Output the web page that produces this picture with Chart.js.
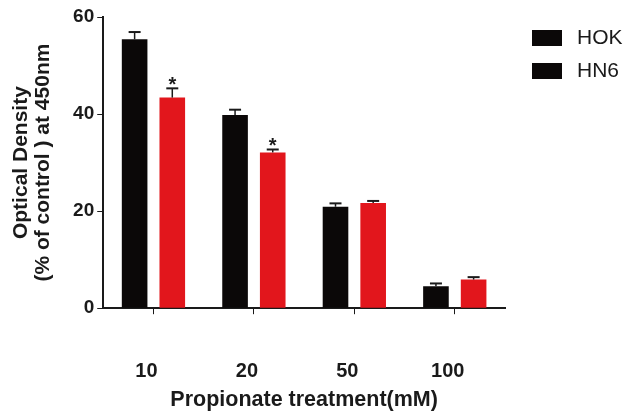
<!DOCTYPE html>
<html lang="en">
<head>
 <meta charset="UTF-8">
 <title>Propionate treatment</title>
 <script src="https://cdn.jsdelivr.net/npm/chart.js"></script>
 <style>
 html, body {
 margin: 0;
 padding: 0;
 background: #fff;
 }
 #wrap {
 width: 624px;
 height: 414px;
 }
 </style>
</head>
<body>
 <div id="wrap"><canvas id="odChart" width="624" height="414"></canvas></div>
 <script>
 // data
 let doses = ["10", "20", "50", "100"];
 let seriesNames = ["HOK", "HN6"];
 let hokValues = [55.4, 39.8, 20.9, 4.5];
 let hokErrors = [1.5, 1.1, 0.7, 0.6];
 let hn6Values = [43.4, 32.1, 21.7, 5.9];
 let hn6Errors = [1.9, 0.6, 0.4, 0.5];
 let hn6Stars = ["*", "*", "", ""];
 let yTicks = [0, 20, 40, 60];

 let errors = [hokErrors, hn6Errors];
 let stars = [[], hn6Stars];
 let font = "'Liberation Sans', Arial, sans-serif";
 let ink = "#1a1a1a";

 // upward error bars with a cap, plus significance stars
 const errorBars = {
   id: "errorBars",
   afterDatasetsDraw(chart) {
     let ctx = chart.ctx;
     let y = chart.scales.y;
     ctx.save();
     chart.data.datasets.forEach((ds, i) => {
       let meta = chart.getDatasetMeta(i);
       meta.data.forEach((bar, j) => {
         let top = y.getPixelForValue(ds.data[j] + errors[i][j]);
         ctx.strokeStyle = ink;
         ctx.lineWidth = 1.5;
         ctx.beginPath();
         ctx.moveTo(bar.x, bar.y);
         ctx.lineTo(bar.x, top);
         ctx.stroke();
         ctx.lineWidth = 2;
         ctx.beginPath();
         ctx.moveTo(bar.x - 6, top);
         ctx.lineTo(bar.x + 6, top);
         ctx.stroke();
         let s = stars[i][j];
         if (s) {
           ctx.fillStyle = ink;
           ctx.font = "bold 20px " + font;
           ctx.textAlign = "center";
           ctx.textBaseline = "alphabetic";
           ctx.fillText(s, bar.x, top + 3);
         }
       });
     });
     ctx.restore();
   }
 };

 // legend on the right; both swatches are black in the original figure
 const sideLegend = {
   id: "sideLegend",
   afterDraw(chart) {
     let ctx = chart.ctx;
     ctx.save();
     seriesNames.forEach((name, i) => {
       let y = 30 + i * 33;
       ctx.fillStyle = "#0b0808";
       ctx.fillRect(532, y, 30, 16);
       ctx.fillStyle = ink;
       ctx.font = "21px " + font;
       ctx.textAlign = "left";
       ctx.textBaseline = "middle";
       ctx.fillText(name, 577, y + 8);
     });
     ctx.restore();
   }
 };

 let ctx = document.getElementById("odChart").getContext("2d");
 new Chart(ctx, {
   type: "bar",
   data: {
     labels: doses,
     datasets: [
       { label: seriesNames[0], data: hokValues, backgroundColor: "#0b0808" },
       { label: seriesNames[1], data: hn6Values, backgroundColor: "#e2161c" }
     ]
   },
   options: {
     responsive: false,
     animation: false,
     categoryPercentage: 0.75,
     barPercentage: 0.68,
     layout: { padding: { top: 17, right: 119, left: 10, bottom: 0 } },
     plugins: {
       tooltip: { enabled: false },
       legend: { display: false }
     },
     scales: {
       x: {
         grid: {
           offset: false,
           drawOnChartArea: false,
           drawTicks: true,
           tickLength: 6,
           color: ink
         },
         border: { display: true, color: ink, width: 2 },
         ticks: {
           padding: 45,
           labelOffset: -7,
           color: ink,
           font: { family: font, size: 20, weight: "bold" }
         },
         title: {
           display: true,
           text: "Propionate treatment(mM)",
           color: ink,
           padding: { top: -41, bottom: 1 },
           font: { family: font, size: 21.5, weight: "bold" }
         }
       },
       y: {
         min: 0,
         max: 60,
         afterBuildTicks: (axis) => { axis.ticks = yTicks.map(v => ({ value: v })); },
         grid: {
           drawOnChartArea: false,
           drawTicks: true,
           tickLength: 6,
           color: ink
         },
         border: { display: true, color: ink, width: 2 },
         ticks: {
           padding: 3,
           color: ink,
           font: { family: font, size: 19, weight: "bold" }
         },
         title: {
           display: true,
           text: ["Optical Density", "(% of control ) at 450nm"],
           color: ink,
           padding: { top: 0, bottom: 16 },
           font: { family: font, size: 21, weight: "bold", lineHeight: 1.05 }
         }
       }
     }
   },
   plugins: [errorBars, sideLegend]
 });
 </script>
</body>
</html>
